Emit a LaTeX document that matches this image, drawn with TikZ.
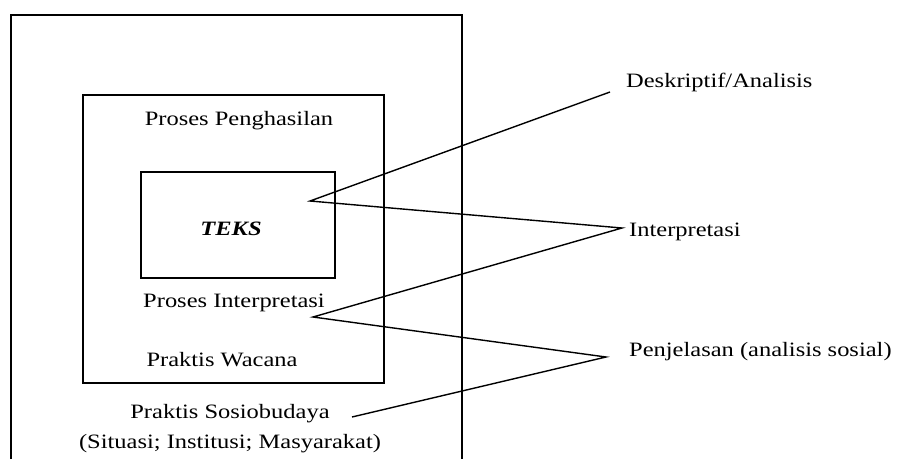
\documentclass[tikz,border=0pt]{standalone}
\usepackage{graphicx}
\usepackage{fontspec}
\setmainfont{Liberation Serif}
\newcommand{\widetxt}[1]{\scalebox{1.2}[1]{#1}}
\begin{document}
\begin{tikzpicture}[x=1pt,y=-1pt,
  box/.style={draw,line width=1.4pt},
  conn/.style={line width=1.4pt,line join=miter},
  lbl/.style={inner sep=0pt,font=\fontsize{20.4}{24}\selectfont},
  lblc/.style={lbl,anchor=base},
  lblw/.style={lbl,anchor=base west}]
\useasboundingbox (0,0) rectangle (898,459);
% outer box (open at the bottom)
\draw[box] (11,459) -- (11,15) -- (462,15) -- (462,459);
% middle and inner boxes
\draw[box] (83,95) rectangle (384,383);
\draw[box] (141,172) rectangle (335,278);
% texts inside
\node[lblc] (pp) at (239,125) {\widetxt{Proses Penghasilan}};
\node[lblc,font=\fontsize{20.4}{24}\selectfont\bfseries\itshape] (teks) at (231,235) {\widetxt{TEKS}};
\node[lblc] (pi) at (234,307) {\widetxt{Proses Interpretasi}};
\node[lblc] (pw) at (222,366) {\widetxt{Praktis Wacana}};
\node[lblc] (ps) at (230,418) {\widetxt{Praktis Sosiobudaya}};
\node[lblc] (sim) at (230,448) {\widetxt{(Situasi; Institusi; Masyarakat)}};
% right labels
\node[lblw] (desk) at (626,87) {\widetxt{Deskriptif/Analisis}};
\node[lblw] (interp) at (629,236) {\widetxt{Interpretasi}};
\node[lblw] (penj) at (629,356) {\widetxt{Penjelasan (analisis sosial)}};
% connector points
\coordinate (a) at (310,201);
\coordinate (d) at (610,92);
\coordinate (i) at (622,228);
\coordinate (b) at (313,317);
\coordinate (p) at (606,357);
\coordinate (s) at (352,417);
\draw[conn] (d) -- (a) -- (i) -- (b) -- (p) -- (s);
\end{tikzpicture}
\end{document}
